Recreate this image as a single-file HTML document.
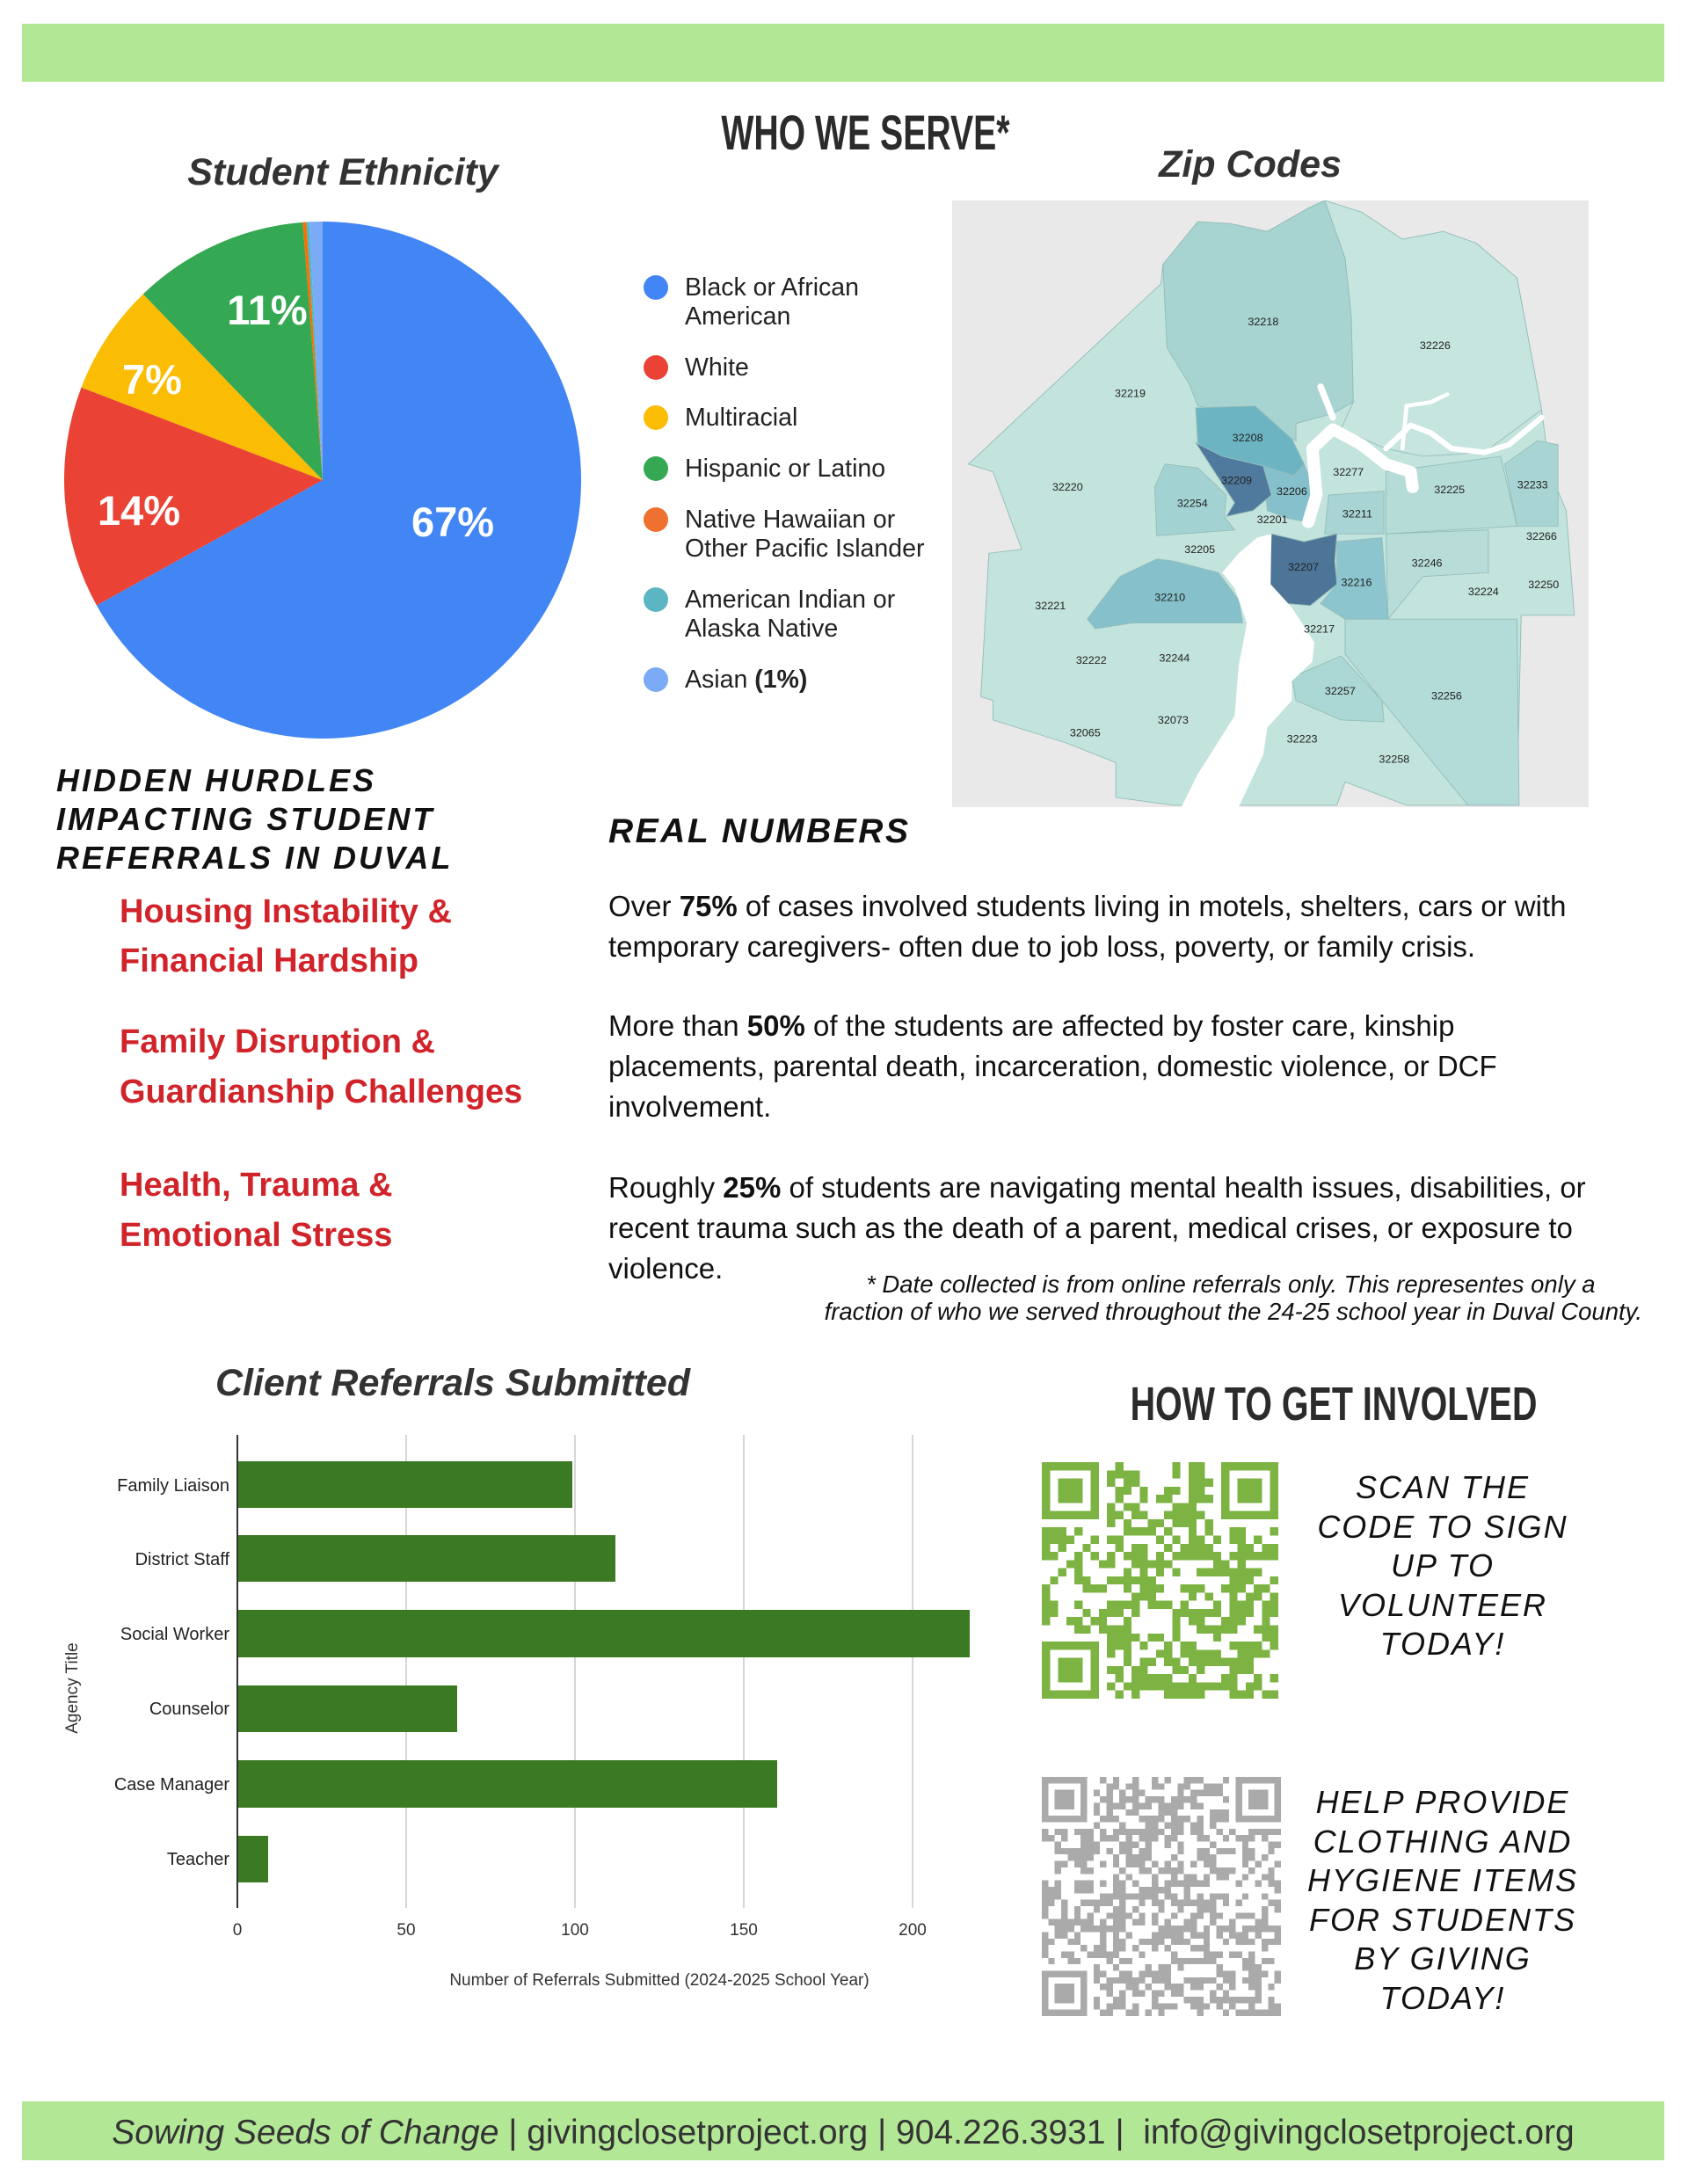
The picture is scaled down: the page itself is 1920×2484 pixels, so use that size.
<!DOCTYPE html>
<html><head><meta charset="utf-8">
<style>
*{margin:0;padding:0;box-sizing:border-box}
body{width:1920px;height:2484px;position:relative;background:#fff;font-family:"Liberation Sans",Arial,sans-serif;overflow:hidden;color:#111}
.a{position:absolute;white-space:nowrap}
.cond{font-family:"Liberation Sans",sans-serif;font-weight:bold;color:#2b2b2b}
.cond span{display:inline-block;transform:scaleX(0.7);transform-origin:center}
.it{font-style:italic;font-weight:bold;color:#333}
.red{color:#d1232a;font-weight:bold;font-size:38px;left:136px}
.p{left:692px;font-size:33px;color:#111;line-height:46px}
.lg{font-size:28.5px;color:#222;left:779px;line-height:33px}
.dot{position:absolute;width:28px;height:28px;border-radius:50%;left:732px}
.qt{font-style:italic;font-size:36px;letter-spacing:2px;text-align:center;line-height:44.6px;color:#111;width:360px;left:1461px}
</style></head><body>
<div class="a" style="left:25px;top:27px;width:1868px;height:66px;background:#b2e796"></div>
<div class="a cond" style="left:0;width:1968px;text-align:center;top:118px;font-size:56px"><span>WHO WE SERVE*</span></div>
<div class="a it" style="left:0;width:780px;text-align:center;top:172px;font-size:43px">Student Ethnicity</div>
<div class="a it" style="left:1222px;width:400px;text-align:center;top:163px;font-size:43px">Zip Codes</div>

<svg class="a" style="left:0;top:0" width="700" height="860" viewBox="0 0 700 860">
<path d="M367,546 L367,252 A294,294 0 1,1 109.9,688.5 Z" fill="#4285f4"/>
<path d="M367,546 L109.9,688.5 A294,294 0 0,1 92.5,440.6 Z" fill="#ea4335"/>
<path d="M367,546 L92.5,440.6 A294,294 0 0,1 162.8,334.5 Z" fill="#fbbc04"/>
<path d="M367,546 L162.8,334.5 A294,294 0 0,1 344.4,252.9 Z" fill="#34a853"/>
<path d="M367,546 L344.4,252.9 A294,294 0 0,1 348.5,252.6 Z" fill="#ff6d01"/>
<path d="M367,546 L348.5,252.6 A294,294 0 0,1 351.6,252.4 Z" fill="#46bdc6"/>
<path d="M367,546 L351.6,252.4 A294,294 0 0,1 367,252 Z" fill="#7baaf7"/>
<g fill="#fff" font-family="Liberation Sans,Arial,sans-serif" font-weight="bold" font-size="47" text-anchor="middle">
<text x="515" y="610">67%</text><text x="158" y="597">14%</text><text x="173" y="448">7%</text><text x="304" y="369">11%</text></g>
</svg>

<div class="dot" style="top:313px;background:#4285f4"></div><div class="a lg" style="top:311px">Black or African<br>American</div>
<div class="dot" style="top:404px;background:#ea4335"></div><div class="a lg" style="top:402px">White</div>
<div class="dot" style="top:461px;background:#fbbc04"></div><div class="a lg" style="top:459px">Multiracial</div>
<div class="dot" style="top:519px;background:#34a853"></div><div class="a lg" style="top:517px">Hispanic or Latino</div>
<div class="dot" style="top:577px;background:#ef7130"></div><div class="a lg" style="top:575px">Native Hawaiian or<br>Other Pacific Islander</div>
<div class="dot" style="top:668px;background:#5bb5c3"></div><div class="a lg" style="top:666px">American Indian or<br>Alaska Native</div>
<div class="dot" style="top:759px;background:#7baaf7"></div><div class="a lg" style="top:757px">Asian <b>(1%)</b></div>

<svg class="a" style="left:1083px;top:228px" width="724" height="690" viewBox="0 0 1555 1565" preserveAspectRatio="none">
<rect width="1555" height="1565" fill="#e9e9e9"/>
<g stroke="#93bdb8" stroke-width="2">
<polygon fill="#c3e3dd" points="40,680 510,215 515,165 600,55 680,60 770,80 870,20 910,0 1000,30 1100,100 1200,80 1280,110 1380,200 1440,540 1460,700 1500,800 1520,1070 1390,1070 1380,1560 1110,1560 960,1500 940,1560 540,1560 400,1540 400,1450 280,1400 100,1340 100,1290 70,1280 90,910 170,900 100,700"/>
<polygon fill="#c6e5df" points="980,520 975,300 960,150 910,0 1000,30 1100,100 1200,80 1280,110 1380,200 1440,540 1300,650 1150,660 1060,640 950,590"/>
<polygon fill="#a7d3d1" points="515,165 600,55 680,60 770,80 870,20 910,0 960,150 975,300 980,520 930,550 840,575 840,620 740,560 600,530 580,475 525,380"/>
<polygon fill="#b5dcd7" points="1060,700 1340,660 1380,840 1060,860"/>
<polygon fill="#a8d5d3" points="1350,680 1430,620 1480,630 1480,840 1380,840"/>
<polygon fill="#b8ddd8" points="1060,860 1310,850 1310,960 1150,970 1065,1080"/>
<polygon fill="#6db4c3" points="595,535 740,530 830,615 860,680 835,710 760,685 680,700 600,625"/>
<polygon fill="#a3d2d2" points="520,680 600,690 670,760 665,815 690,850 500,865 495,740"/>
<polygon fill="#85c0cc" points="760,685 835,710 860,680 890,760 870,830 820,820 770,800"/>
<polygon fill="#4f7a9e" points="595,625 660,660 760,685 780,760 735,800 670,815 690,780"/>
<polygon fill="#a8d4d4" points="920,760 1055,750 1055,860 910,860"/>
<polygon fill="#8cc5ce" points="940,880 1050,870 1065,1080 960,1080 900,1040 940,990"/>
<polygon fill="#4d7598" points="780,860 860,880 940,860 935,930 940,990 875,1045 820,1040 775,990"/>
<polygon fill="#86c0cb" points="330,1080 410,970 500,925 540,930 650,960 700,1030 710,1090 440,1090 350,1105"/>
<polygon fill="#b3dcd8" points="960,1080 1380,1080 1385,1560 1260,1560 1050,1290 960,1170"/>
<polygon fill="#abd7d4" points="830,1230 950,1175 1050,1290 1055,1345 950,1340 840,1290"/>
</g>
<g fill="#fff">
<polygon points="745,870 700,910 660,960 690,1000 720,1090 700,1200 690,1330 600,1480 560,1565 700,1565 760,1430 770,1360 830,1290 830,1240 880,1190 885,1140 830,1050 778,990 780,860"/>
</g>
<g fill="none" stroke="#fff" stroke-linejoin="round" stroke-linecap="round">
<polyline stroke-width="30" points="870,830 890,760 880,640 930,590 1000,630 1060,680 1120,700 1125,740"/>
<polyline stroke-width="16" points="900,480 930,560"/>
<polyline stroke-width="14" points="1060,640 1120,580 1170,600 1220,640 1300,650 1360,630 1440,560"/>
<polyline stroke-width="10" points="1100,640 1110,530 1170,520 1210,500"/>
</g>
<g font-family="Liberation Sans,Arial,sans-serif" font-size="27" fill="#222" text-anchor="middle">
<text x="760" y="322">32218</text><text x="1180" y="383">32226</text><text x="435" y="507">32219</text><text x="722" y="622">32208</text><text x="695" y="732">32209</text><text x="830" y="760">32206</text><text x="968" y="710">32277</text><text x="1215" y="755">32225</text><text x="1418" y="743">32233</text><text x="282" y="748">32220</text><text x="587" y="790">32254</text><text x="782" y="832">32201</text><text x="990" y="818">32211</text><text x="1440" y="875">32266</text><text x="605" y="910">32205</text><text x="858" y="955">32207</text><text x="988" y="995">32216</text><text x="1160" y="945">32246</text><text x="1298" y="1018">32224</text><text x="1445" y="1000">32250</text><text x="240" y="1055">32221</text><text x="532" y="1033">32210</text><text x="897" y="1115">32217</text><text x="340" y="1195">32222</text><text x="543" y="1190">32244</text><text x="948" y="1275">32257</text><text x="1208" y="1287">32256</text><text x="540" y="1350">32073</text><text x="325" y="1383">32065</text><text x="855" y="1398">32223</text><text x="1080" y="1450">32258</text>
</g>
</svg>

<div class="a" style="left:64px;top:866px;font-size:36px;font-weight:bold;font-style:italic;letter-spacing:3px;line-height:44px;color:#111">HIDDEN HURDLES<br>IMPACTING STUDENT<br>REFERRALS IN DUVAL</div>
<div class="a red" style="top:1009px;line-height:56px">Housing Instability &amp;<br>Financial Hardship</div>
<div class="a red" style="top:1157px;line-height:57px">Family Disruption &amp;<br>Guardianship Challenges</div>
<div class="a red" style="top:1320px;line-height:57px">Health, Trauma &amp;<br>Emotional Stress</div>

<div class="a" style="left:692px;top:924px;font-size:39px;font-weight:bold;font-style:italic;letter-spacing:2.5px;color:#111">REAL NUMBERS</div>
<div class="a p" style="top:1008px">Over <b>75%</b> of cases involved students living in motels, shelters, cars or with<br>temporary caregivers- often due to job loss, poverty, or family crisis.</div>
<div class="a p" style="top:1144px">More than <b>50%</b> of the students are affected by foster care, kinship<br>placements, parental death, incarceration, domestic violence, or DCF<br>involvement.</div>
<div class="a p" style="top:1328px">Roughly <b>25%</b> of students are navigating mental health issues, disabilities, or<br>recent trauma such as the death of a parent, medical crises, or exposure to<br>violence.</div>
<div class="a" style="left:880px;width:988px;text-align:right;top:1445px;font-size:27.5px;font-style:italic;line-height:31px;color:#111">* Date collected is from online referrals only. This representes only a&nbsp;&nbsp;&nbsp;&nbsp;&nbsp;&nbsp;&nbsp;<br>fraction of who we served throughout the 24-25 school year in Duval County.</div>

<div class="a it" style="left:0;width:1030px;text-align:center;top:1549px;font-size:43px">Client Referrals Submitted</div>

<svg class="a" style="left:0;top:1600px" width="1150" height="700" viewBox="0 1600 1150 700">
<g stroke="#d6d6d6" stroke-width="2"><line x1="462" y1="1632" x2="462" y2="2170"/><line x1="654" y1="1632" x2="654" y2="2170"/><line x1="846" y1="1632" x2="846" y2="2170"/><line x1="1038" y1="1632" x2="1038" y2="2170"/></g>
<g fill="#3b7a22">
<rect x="270" y="1662" width="381" height="53"/>
<rect x="270" y="1746" width="430" height="53"/>
<rect x="270" y="1831" width="833" height="54"/>
<rect x="270" y="1917" width="250" height="53"/>
<rect x="270" y="2002" width="614" height="54"/>
<rect x="270" y="2088" width="35" height="53"/>
</g>
<line x1="270" y1="1632" x2="270" y2="2170" stroke="#333" stroke-width="2"/>
<g font-family="Liberation Sans,Arial,sans-serif" font-size="20" fill="#222" text-anchor="end">
<text x="261" y="1696">Family Liaison</text><text x="261" y="1780">District Staff</text><text x="261" y="1865">Social Worker</text><text x="261" y="1950">Counselor</text><text x="261" y="2036">Case Manager</text><text x="261" y="2121">Teacher</text></g>
<g font-family="Liberation Sans,Arial,sans-serif" font-size="19" fill="#333" text-anchor="middle">
<text x="270" y="2201">0</text><text x="462" y="2201">50</text><text x="654" y="2201">100</text><text x="846" y="2201">150</text><text x="1038" y="2201">200</text>
<text x="750" y="2258">Number of Referrals Submitted (2024-2025 School Year)</text>
<text transform="translate(88,1920) rotate(-90)">Agency Title</text></g>
</svg>

<div class="a cond" style="left:1200px;width:600px;text-align:center;top:1566px;font-size:54px"><span style="transform:scaleX(0.73)">HOW TO GET INVOLVED</span></div>

<svg class="a" id="q1" style="left:1185px;top:1663px" width="269" height="269" viewBox="0 0 29 29" shape-rendering="crispEdges"></svg>
<svg class="a" id="q2" style="left:1185px;top:2021px" width="272" height="272" viewBox="0 0 37 37" shape-rendering="crispEdges"></svg>
<div class="a qt" style="top:1670px">SCAN THE<br>CODE TO SIGN<br>UP TO<br>VOLUNTEER<br>TODAY!</div>
<div class="a qt" style="top:2028px">HELP PROVIDE<br>CLOTHING AND<br>HYGIENE ITEMS<br>FOR STUDENTS<br>BY GIVING<br>TODAY!</div>

<div class="a" style="left:25px;top:2390px;width:1868px;height:67px;background:#b2e796"></div>
<div class="a" style="left:25px;width:1868px;text-align:center;top:2404px;font-size:39px;color:#333"><i>Sowing Seeds of Change</i> | givingclosetproject.org | 904.226.3931 |&nbsp; info@givingclosetproject.org</div>

<script>
function qr(id,n,col,seed){var s=seed,svg=document.getElementById(id),h='';
function r(){s=(s*1103515245+12345)%2147483648;return s/2147483648;}
function fin(x,y){return '<rect x="'+x+'" y="'+y+'" width="7" height="7" fill="'+col+'"/><rect x="'+(x+1)+'" y="'+(y+1)+'" width="5" height="5" fill="#fff"/><rect x="'+(x+2)+'" y="'+(y+2)+'" width="3" height="3" fill="'+col+'"/>';}
for(var y=0;y<n;y++)for(var x=0;x<n;x++){
 if((x<8&&y<8)||(x>=n-8&&y<8)||(x<8&&y>=n-8))continue;
 if(r()<0.52)h+='<rect x="'+x+'" y="'+y+'" width="1" height="1" fill="'+col+'"/>';}
h+=fin(0,0)+fin(n-7,0)+fin(0,n-7);svg.innerHTML=h;}
qr('q1',29,'#7cb342',7);qr('q2',37,'#aaaaaa',99);
</script>
</body></html>
